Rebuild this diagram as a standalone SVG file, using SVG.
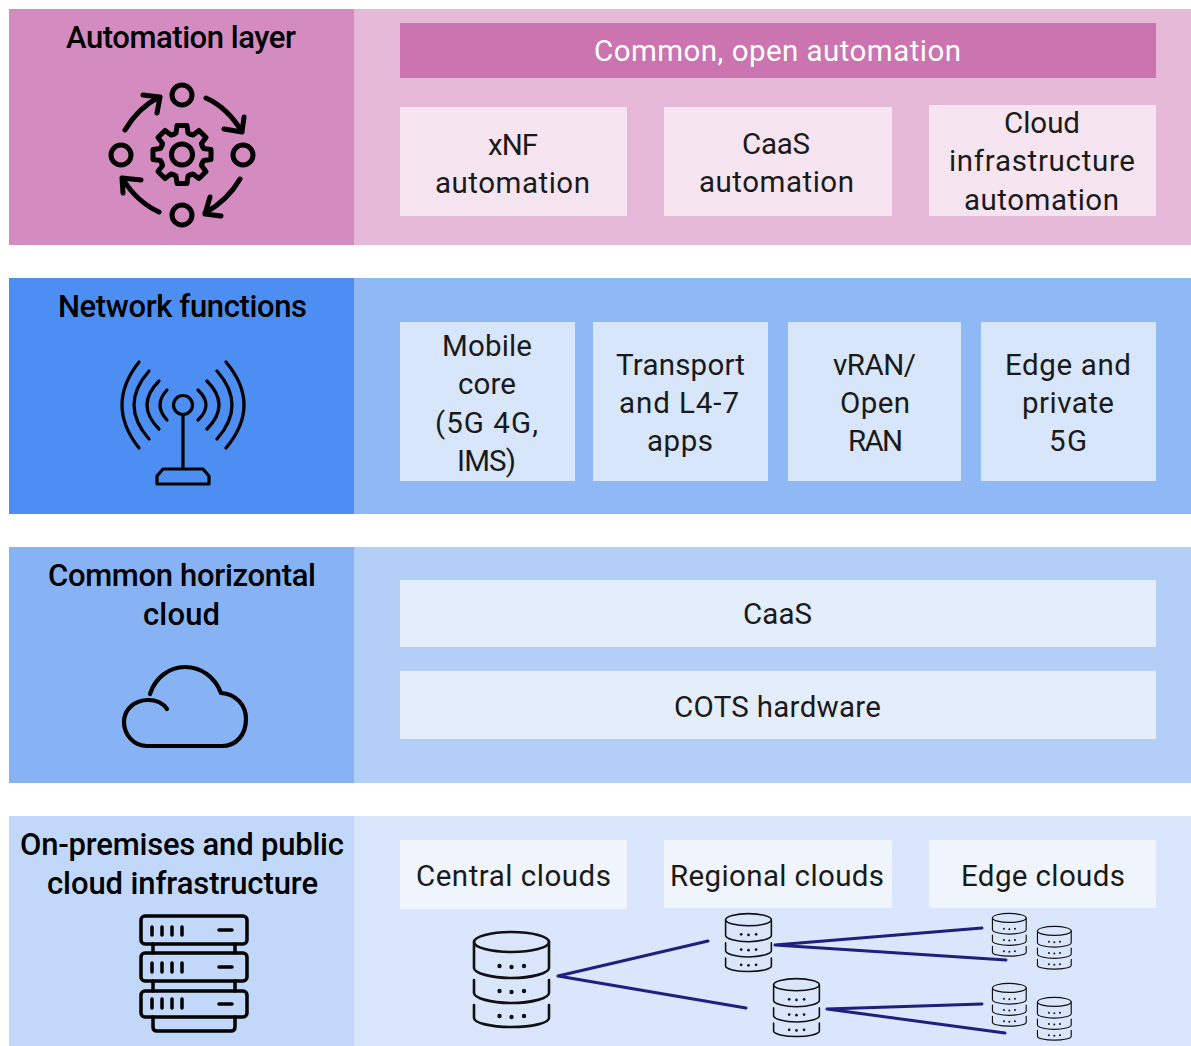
<svg xmlns="http://www.w3.org/2000/svg" width="1191" height="1046" viewBox="0 0 1191 1046">
<style>
text{font-family:Roboto,"Liberation Sans",sans-serif;font-size:29.5px;fill:#1a1a1a;text-anchor:middle}
.h{font-size:31px;font-weight:500;fill:#000}
.w{fill:#fff}
.i{fill:none;stroke:#000;stroke-linecap:round;stroke-linejoin:round}
.c{fill:none;stroke:#1f1f7d;stroke-width:3;stroke-linecap:round}
.d{fill:none;stroke:#111;stroke-width:2.6;stroke-linecap:round}
.b1{fill:#f6e5f1}.b2{fill:#d8e6fb}.b3{fill:#e3edfc}.b4{fill:#eff4fd}
</style>
<defs>
<path id="tooth" d="M-8.4-20.3L-6-21.5L-5-29H5L6-21.5L8.4-20.3"/>
<g id="db">
<ellipse class="d" cx="38.5" cy="11" rx="37.5" ry="10"/>
<path class="d" d="M1 11V37C1 42 18 47 38.5 47S76 42 76 37V11M1 49V62C1 67 18 72 38.5 72S76 67 76 62V49M1 74V87C1 92 18 96 38.5 96S76 92 76 87V74"/>
<g fill="#111"><circle cx="26.5" cy="35" r="2.2"/><circle cx="38.5" cy="36" r="2.2"/><circle cx="51" cy="35" r="2.2"/><circle cx="26.5" cy="60" r="2.2"/><circle cx="38.5" cy="61" r="2.2"/><circle cx="51" cy="60" r="2.2"/><circle cx="26.5" cy="85" r="2.2"/><circle cx="38.5" cy="86" r="2.2"/><circle cx="51" cy="85" r="2.2"/></g>
</g>
</defs>
<rect width="1191" height="1046" fill="#fff"/>

<g id="automation-layer">
<rect x="9" y="9" width="345" height="236" fill="#d48bbf"/>
<rect x="354" y="9" width="837" height="236" fill="#e6b9d8"/>
<text class="h" x="181" y="48" textLength="230">Automation layer</text>
<g class="i" stroke-width="5">
<circle cx="182" cy="95" r="10"/><circle cx="121" cy="155" r="10"/><circle cx="243" cy="155" r="10"/><circle cx="182" cy="215" r="10"/>
<path d="M125 130Q138 108 159 97M143 95L160 97L157 113"/>
<path d="M206 98Q228 108 242 132M244 117L242 132L224 129"/>
<path d="M240 179Q228 200 205 213M210 197L205 214L221 216"/>
<path d="M159 212Q137 202 122 178M141 180L122 178L123 193"/>
<circle cx="182" cy="154.500" r="10.500"/>
<g transform="translate(182 154.500)"><use href="#tooth"/><use href="#tooth" transform="rotate(45)"/><use href="#tooth" transform="rotate(90)"/><use href="#tooth" transform="rotate(135)"/><use href="#tooth" transform="rotate(180)"/><use href="#tooth" transform="rotate(225)"/><use href="#tooth" transform="rotate(270)"/><use href="#tooth" transform="rotate(315)"/></g>
</g>
</g>
<g id="common-open-automation"><rect x="400" y="23" width="756" height="55" fill="#cb74b0"/><text class="w" x="777.500" y="60.500" textLength="367">Common, open automation</text></g>
<g id="xnf-automation"><rect class="b1" x="400" y="107" width="227" height="109"/><text x="513" y="154.500" textLength="50">xNF</text><text x="512.500" y="193" textLength="155">automation</text></g>
<g id="caas-automation"><rect class="b1" x="664" y="107" width="228" height="109"/><text x="776" y="153.500" textLength="68">CaaS</text><text x="776.500" y="192" textLength="155">automation</text></g>
<g id="cloud-infrastructure-automation"><rect class="b1" x="929" y="105" width="227" height="111"/><text x="1042" y="133" textLength="76">Cloud</text><text x="1042" y="171" textLength="186">infrastructure</text><text x="1041.500" y="210" textLength="155">automation</text></g>

<g id="network-functions">
<rect x="9" y="278" width="345" height="236" fill="#4d8ef2"/>
<rect x="354" y="278" width="837" height="236" fill="#8fb9f5"/>
<text class="h" x="182.500" y="317" textLength="249">Network functions</text>
<g class="i" stroke-width="3.200">
<circle cx="183" cy="405" r="9.500"/>
<path d="M183 414.500V469M163 469H203L209 476V484H157V476Z"/>
<path d="M198 390Q214 405 198 420M207 381Q231 405 207 429M217 371Q247 405 217 439M226 362Q262 405 226 448"/>
<path d="M167 390Q153 405 167 420M159 381Q135 405 159 429M149 371Q119 405 149 439M139 362Q105 405 139 448"/>
</g>
</g>
<g id="mobile-core"><rect class="b2" x="400" y="322" width="175" height="159"/><text x="487" y="355.500" textLength="90">Mobile</text><text x="487" y="394" textLength="58">core</text><text x="486.500" y="432.500" textLength="103">(5G 4G,</text><text x="486.500" y="471" textLength="59">IMS)</text></g>
<g id="transport-apps"><rect class="b2" x="593" y="322" width="175" height="159"/><text x="680.500" y="374.500" textLength="129">Transport</text><text x="679" y="413" textLength="120">and L4-7</text><text x="680" y="451" textLength="66">apps</text></g>
<g id="vran-open-ran"><rect class="b2" x="788" y="322" width="173" height="159"/><text x="874.500" y="374.500" textLength="83">vRAN/</text><text x="875" y="413" textLength="70">Open</text><text x="875.500" y="451" textLength="55">RAN</text></g>
<g id="edge-private-5g"><rect class="b2" x="981" y="322" width="175" height="159"/><text x="1068" y="374.500" textLength="126">Edge and</text><text x="1068" y="413" textLength="92">private</text><text x="1068" y="451" textLength="38">5G</text></g>

<g id="common-horizontal-cloud">
<rect x="9" y="547" width="345" height="236" fill="#87b3f4"/>
<rect x="354" y="547" width="837" height="236" fill="#b3cff8"/>
<text class="h" x="182" y="586" textLength="268">Common horizontal</text>
<text class="h" x="181.500" y="625" textLength="77">cloud</text>
<path class="i" stroke-width="4.200" d="M150 694C155 678 169 667 185 667C201 667 215 677 221 693C236 694 246 705 246 719C246 735 236 746 222 746H147C134 746 124 735 124 722C124 709 135 700 148 700C156 700 163 703 167 709"/>
</g>
<g id="caas"><rect class="b3" x="400" y="580" width="756" height="67"/><text x="777.500" y="624" textLength="69">CaaS</text></g>
<g id="cots-hardware"><rect class="b3" x="400" y="671" width="756" height="68"/><text x="777.500" y="716.500" textLength="207">COTS hardware</text></g>

<g id="infrastructure">
<rect x="9" y="816" width="345" height="230" fill="#c2d8fa"/>
<rect x="354" y="816" width="837" height="230" fill="#d9e6fb"/>
<text class="h" x="182" y="855" textLength="324">On-premises and public</text>
<text class="h" x="182.500" y="893.500" textLength="271">cloud infrastructure</text>
<g class="i" stroke-width="3.500">
<rect x="141" y="916" width="106" height="28" rx="4"/><rect x="141" y="953" width="106" height="28" rx="4"/><rect x="141" y="991" width="106" height="26" rx="4"/>
<path d="M153 944V953M235 944V953M153 981V991M235 981V991M153 1017V1027Q153 1031 157 1031H231Q235 1031 235 1027V1017"/>
<path d="M152 927V935M162 927V935M172 927V935M182 927V935M219 930H232M152 963V972M162 963V972M172 963V972M182 963V972M219 967H232M152 999V1008M162 999V1008M172 999V1008M182 999V1008M219 1004H232"/>
</g>
</g>
<g id="central-clouds"><rect class="b4" x="400" y="840" width="227" height="69"/><text x="513.500" y="886" textLength="195">Central clouds</text></g>
<g id="regional-clouds"><rect class="b4" x="664" y="840" width="228" height="68"/><text x="777" y="886" textLength="214">Regional clouds</text></g>
<g id="edge-clouds"><rect class="b4" x="929" y="840" width="227" height="68"/><text x="1043" y="886" textLength="164">Edge clouds</text></g>

<g id="db-central"><use href="#db" transform="translate(473 931)"/></g>
<g id="db-regional-1"><use href="#db" transform="translate(725 913) scale(.61)"/></g>
<g id="db-regional-2"><use href="#db" transform="translate(773 978) scale(.61)"/></g>
<g id="db-edge-1"><use href="#db" transform="translate(992 913) scale(.45)"/></g>
<g id="db-edge-2"><use href="#db" transform="translate(1037 926) scale(.45)"/></g>
<g id="db-edge-3"><use href="#db" transform="translate(992 983) scale(.45)"/></g>
<g id="db-edge-4"><use href="#db" transform="translate(1037 997) scale(.45)"/></g>

<g id="connectors">
<path class="c" d="M558 976L708 941M558 976L746 1008M775 945L982 928M775 945L1006 960M827 1009L982 1004M827 1009L1005 1033"/>
</g>
</svg>
